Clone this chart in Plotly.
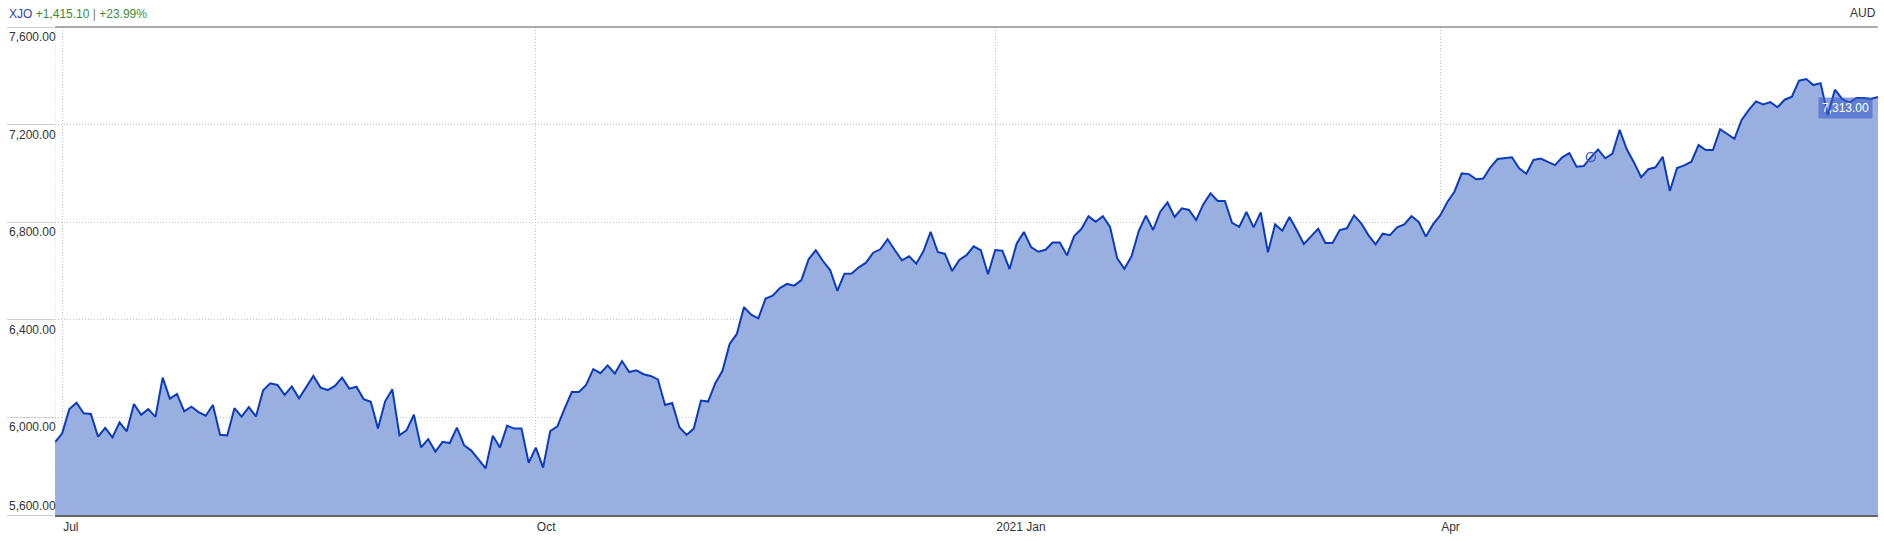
import pandas as pd
import plotly.graph_objects as go

# ---------------- data ----------------
symbol = "XJO"
currency = "AUD"
start_date = "2020-06-30"
end_date = "2021-06-30"
exchange_holidays = ["2020-12-25", "2020-12-28", "2021-01-01", "2021-01-26",
                     "2021-04-02", "2021-04-05", "2021-06-14"]

close_values = [
    5897.9, 5935, 6034, 6060, 6017, 6014, 5921, 5957, 5918, 5980,
    5943, 6055, 6011, 6034, 6002, 6163, 6077, 6096, 6025, 6044,
    6022, 6007, 6051, 5929, 5926, 6038, 6003, 6042, 6004, 6111,
    6140, 6133, 6092, 6127, 6078, 6126, 6170, 6122, 6112, 6129,
    6163, 6118, 6126, 6075, 6064, 5955, 6066, 6115, 5927, 5948,
    6011, 5877, 5911, 5860, 5900, 5895, 5958, 5886, 5864, 5828,
    5791, 5925, 5877, 5966, 5954, 5954, 5814, 5876, 5794, 5944,
    5963, 6036, 6104, 6104, 6133, 6198, 6181, 6213, 6180, 6231,
    6186, 6193, 6177, 6170, 6156, 6051, 6059, 5960, 5928, 5954,
    6069, 6065, 6140, 6191, 6301, 6342, 6452, 6421, 6406, 6487,
    6499, 6530, 6547, 6540, 6563, 6648, 6685, 6641, 6604, 6519,
    6589, 6590, 6615, 6634, 6675, 6689, 6730, 6686, 6644, 6660,
    6630, 6681, 6760, 6678, 6670, 6600, 6645, 6665, 6701, 6685,
    6587, 6686, 6683, 6608, 6713, 6760, 6698, 6679, 6687, 6717,
    6717, 6664, 6743, 6772, 6824, 6802, 6825, 6781, 6652, 6609,
    6661, 6764, 6827, 6768, 6843, 6881, 6822, 6857, 6850, 6809,
    6874, 6918, 6887, 6887, 6797, 6781, 6842, 6779, 6840, 6677,
    6791, 6765, 6821, 6768, 6711, 6742, 6773, 6715, 6715, 6768,
    6775, 6828, 6795, 6747, 6709, 6753, 6747, 6779, 6791, 6825,
    6801, 6741, 6791, 6828, 6883, 6926, 7000, 6997, 6976, 6979,
    7025, 7059, 7063, 7066, 7021, 6999, 7055, 7061, 7047, 7034,
    7066, 7083, 7027, 7030, 7067, 7098, 7062, 7081, 7178, 7099,
    7045, 6984, 7017, 7025, 7068, 6928, 7022, 7033, 7048, 7116,
    7096, 7096, 7181, 7161, 7142, 7219, 7260, 7295, 7283, 7292,
    7271, 7302, 7314, 7380, 7387, 7362, 7370, 7239, 7343, 7305,
    7290, 7309, 7309, 7305, 7313.0,
]

tick_months = ["2020-07", "2020-10", "2021-01", "2021-04"]
tick_labels = ["Jul", "Oct", "2021 Jan", "Apr"]
y_ticks = [5600, 6000, 6400, 6800, 7200, 7600]
event_dates = ["2021-05-04"]

# ---------------- build ----------------
dates = pd.bdate_range(start_date, end_date)
dates = dates[~dates.isin(pd.to_datetime(exchange_holidays))]
assert len(dates) == len(close_values), (len(dates), len(close_values))
idx = list(range(len(dates)))
date_str = [d.strftime("%Y-%m-%d") for d in dates]

tick_idx = []
for m in tick_months:
    tick_idx.append(next(i for i, d in enumerate(dates) if d.strftime("%Y-%m") == m))
event_idx = [date_str.index(d) for d in event_dates]

change = close_values[-1] - close_values[0]
pct = change / close_values[0] * 100

FONT = "Liberation Sans, Arial, sans-serif"
FS = 12
LINE = "rgb(12,60,190)"
FILL = "rgb(152,175,224)"
GRID = "#c4c4c4"

fig = go.Figure()
fig.add_trace(go.Scatter(
    x=idx, y=close_values, mode="lines", fill="tozeroy",
    fillcolor=FILL, line=dict(color=LINE, width=2), hoverinfo="skip",
))
fig.add_trace(go.Scatter(
    x=event_idx, y=[close_values[i] for i in event_idx], mode="markers",
    marker=dict(symbol="circle-open", size=9, color="rgb(70,100,200)",
                line=dict(width=1.5, color="rgb(70,100,200)")),
    hoverinfo="skip",
))

fig.update_layout(
    width=1884, height=541,
    margin=dict(l=55, r=6, t=27, b=26, autoexpand=False),
    paper_bgcolor="white", plot_bgcolor="white",
    showlegend=False,
    font=dict(family=FONT, size=FS, color="#333"),
    xaxis=dict(
        range=[0, len(idx) - 1], tickvals=tick_idx, ticktext=tick_labels,
        showgrid=True, gridcolor=GRID, griddash="1px,2px", gridwidth=1,
        showline=True, linecolor="#666", linewidth=2,
        ticks="", ticklabelposition="outside right",
        tickfont=dict(family=FONT, size=FS, color="#333"),
        zeroline=False, fixedrange=True, automargin=False,
    ),
    yaxis=dict(
        range=[y_ticks[0], y_ticks[-1]], tickvals=y_ticks,
        showgrid=True, gridcolor=GRID, griddash="1px,2px", gridwidth=1,
        showticklabels=False, ticks="outside", ticklen=47,
        tickcolor="#d0d0d0", tickwidth=1,
        zeroline=False, showline=False, fixedrange=True, automargin=False,
    ),
)

# left dotted boundary and top border
fig.add_shape(type="line", xref="x", yref="paper", x0=0, x1=0, y0=0, y1=1,
              line=dict(color=GRID, width=1, dash="1px,2px"))
fig.add_shape(type="line", xref="paper", yref="paper", x0=0, x1=1, y0=1, y1=1,
              line=dict(color="#5a5a5a", width=1))

# y labels (drawn below each grid line, the lowest above it)
lx = -48 / 1823
for v in y_ticks:
    first = v == y_ticks[0]
    fig.add_annotation(
        xref="paper", yref="y", x=lx, y=v, xanchor="left",
        yanchor="bottom" if first else "top", yshift=0 if first else -1,
        text=f"{v:,.2f}", showarrow=False,
        font=dict(family=FONT, size=FS, color="#333"),
    )

# header
fig.add_annotation(
    xref="paper", yref="paper", x=lx, y=1 + 13 / 488, xanchor="left", yanchor="middle",
    showarrow=False,
    text=(f"<span style='color:#2c3fae'>{symbol}</span> "
          f"<span style='color:#3c8c3c'>{change:+,.2f}</span>"
          f"<span style='color:#777'> | </span>"
          f"<span style='color:#3c8c3c'>{pct:+.2f}%</span>"),
    font=dict(family=FONT, size=FS),
)
fig.add_annotation(
    xref="paper", yref="paper", x=1, y=1 + 14 / 488, xanchor="right", yanchor="middle",
    showarrow=False, text=currency, font=dict(family=FONT, size=FS, color="#333"),
)

# last value label
fig.add_annotation(
    xref="x", yref="y", x=idx[-1], y=close_values[-1], xanchor="right", yanchor="top",
    xshift=-5, showarrow=False, text=f"{close_values[-1]:,.2f}",
    font=dict(family=FONT, size=FS, color="white"),
    bgcolor="rgba(60,95,200,0.6)", borderpad=3,
)

fig.write_html("out.html", config={"displayModeBar": False},
               post_script="document.body.style.margin='0';document.body.style.padding='0';")
